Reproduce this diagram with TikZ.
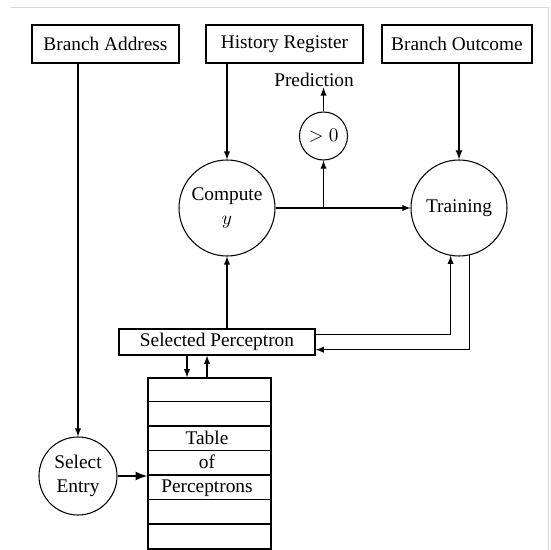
\documentclass[tikz,border=0pt]{standalone}
\usepackage{fontspec}
\setmainfont{Liberation Serif}
\usetikzlibrary{arrows}
\begin{document}
\begin{tikzpicture}[>=latex, font=\fontsize{11}{13.6}\selectfont,
  unitbox/.style={shape=rectangle, draw=black, thick, minimum height=0.76cm, inner sep=0pt},
  stage/.style={shape=circle, draw=black, semithick, align=center, inner sep=0pt},
  wire/.style={->, semithick, draw=black}]
\useasboundingbox (0,0) rectangle (11.02,-11.0);
\draw[black!15] (0.22,-0.14) -- (10.96,-0.14) -- (10.96,-11.0);
% inputs
\node[unitbox, minimum width=2.94cm] (addr) at (2.11,-0.88) {Branch Address};
\node[unitbox, minimum width=3.14cm] (hist) at (5.69,-0.88) {History Register};
\node[unitbox, minimum width=3.00cm] (outc) at (9.14,-0.88) {Branch Outcome};
% stages
\node[stage, minimum size=1.92cm] (comp) at (4.54,-4.16) {Compute\\$y$};
\node[stage, minimum size=1.92cm] (train) at (9.18,-4.16) {Training};
\node[stage, minimum size=0.96cm] (gt) at (6.47,-2.72) {$>0$};
\node[inner sep=0pt, anchor=south] (pred) at (6.28,-1.75) {Prediction};
\node[stage, minimum size=1.56cm] (entry) at (1.56,-9.52) {Select\\Entry};
\node[unitbox, minimum width=3.92cm, minimum height=0.52cm] (sel) at (4.34,-6.84) {Selected Perceptron};
% table
\node[draw=black, thick, minimum width=2.46cm, minimum height=3.42cm, inner sep=0pt] (tab) at (4.19,-9.27) {};
\foreach \i in {1,...,6}
  \draw[thick] ([yshift=-\i*0.4886cm]tab.north west) -- ([yshift=-\i*0.4886cm]tab.north east);
\node[align=center] (tabtext) at (4.14,-9.27) {Table\\of\\Perceptrons};
% connectors
\draw[wire] (addr.south -| entry) -- (entry.north);
\draw[wire] (hist.south -| comp) -- (comp.north);
\draw[wire, thick] (outc.south -| train) -- (train.north);
\path[wire] (comp) edge (train);
\draw[wire] (gt.south |- comp) -- (gt.south);
\draw[wire] (gt.north) -- (gt.north |- pred.south);
\draw[wire] (sel.north -| comp) -- (comp.south);
\draw[wire] ([yshift=-0.12cm]sel.north east) -| (train.-100);
\draw[wire] (train.-78) |- ([yshift=0.12cm]sel.south east);
\draw[wire] ([xshift=-0.45cm]sel.south -| tab.north) -- ([xshift=-0.45cm]tab.north);
\draw[wire] ([xshift=-0.05cm]tab.north) -- ([xshift=-0.05cm]sel.south -| tab.north);
\draw[->, line width=1.3pt] (entry.east) -- (entry.east -| tab.west);
\end{tikzpicture}
\end{document}
